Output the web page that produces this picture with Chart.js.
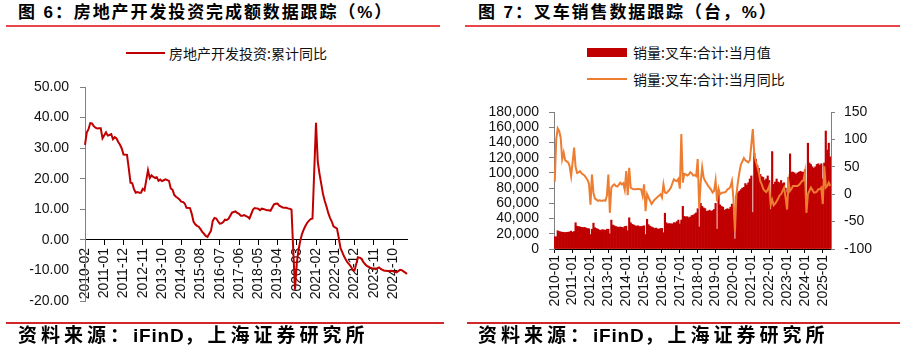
<!DOCTYPE html>
<html>
<head>
<meta charset="utf-8">
<script src="https://cdn.jsdelivr.net/npm/chart.js@4.4.1/dist/chart.umd.min.js"></script>
<style>
  html, body { margin: 0; padding: 0; background: #fff; }
  #page { position: relative; width: 905px; height: 353px; overflow: hidden; font-family: "Liberation Sans", "Noto Sans CJK SC", sans-serif; }
  canvas { position: absolute; top: 0; }
  .title { position: absolute; top: 3px; font-size: 17px; line-height: 20px; font-weight: bold; letter-spacing: 1.9px; color: #000; white-space: nowrap; }
  .rule-top { position: absolute; top: 25px; height: 2px; background: #E8464B; }
  .rule-bottom { position: absolute; top: 322px; height: 2px; background: #D2262A; }
  .source { position: absolute; top: 325px; font-size: 19px; line-height: 22px; font-weight: bold; letter-spacing: 4px; color: #000; white-space: nowrap; }
  .source span { letter-spacing: 0.8px; }
  .lg { position: absolute; font-family: "Noto Sans CJK SC", sans-serif; font-size: 14px; line-height: 18px; color: #111; white-space: nowrap; }
  .sw { position: absolute; }
</style>
</head>
<body>
<div id="page">
  <div class="title" style="left:18px">图 6：房地产开发投资完成额数据跟踪（%）</div>
  <div class="rule-top" style="left:6px;width:434px"></div>
  <div class="title" style="left:478px">图 7：叉车销售数据跟踪（台，%）</div>
  <div class="rule-top" style="left:465px;width:435px"></div>

  <div class="sw" style="left:126px;top:52px;width:39px;height:2px;background:#C00000"></div>
  <div class="lg" style="left:169px;top:44px">房地产开发投资:累计同比</div>

  <div class="sw" style="left:587px;top:48px;width:40px;height:9px;background:#C00000"></div>
  <div class="lg" style="left:633px;top:43px">销量:叉车:合计:当月值</div>
  <div class="sw" style="left:587px;top:78px;width:40px;height:2px;background:#ED7D31"></div>
  <div class="lg" style="left:633px;top:70px">销量:叉车:合计:当月同比</div>

  <canvas id="c1" width="450" height="353" style="left:0"></canvas>
  <canvas id="c2" width="450" height="353" style="left:455px"></canvas>

  <div class="rule-bottom" style="left:6px;width:438px"></div>
  <div class="rule-bottom" style="left:467px;width:433px"></div>
  <div class="source" style="left:18px">资料来源：<span>iFinD</span>，上海证券研究所</div>
  <div class="source" style="left:478px">资料来源：<span>iFinD</span>，上海证券研究所</div>
</div>
<script>
function monthRange(y, m, count) {
  const out = [];
  for (let i = 0; i < count; i++) {
    out.push(y + '-' + String(m).padStart(2, '0'));
    m++;
    if (m > 12) { m = 1; y++; }
  }
  return out;
}

// 图6: 2010-02 ~ 2025-06，1月无数据
const reMonths = monthRange(2010, 2, 185);
const reInvestYoY = [
  31.1, 35.1, 36.2, 38.2, 38.1, 37.2, 36.7, 36.4, 36.5, 36.5, 33.2,
  null, 35.2, 34.1, 34.3, 34.6, 32.9, 33.6, 33.2, 32.0, 31.1, 29.9, 27.9,
  null, 27.8, 23.5, 18.7, 18.5, 16.6, 15.4, 15.6, 15.4, 15.4, 16.7, 16.2,
  null, 22.8, 20.2, 21.1, 20.6, 20.3, 20.5, 19.3, 19.7, 19.2, 19.5, 19.8,
  null, 19.3, 16.8, 16.4, 14.7, 14.1, 13.7, 13.2, 12.5, 12.4, 11.9, 10.5,
  null, 10.4, 8.5, 6.0, 5.1, 4.6, 4.3, 3.5, 2.6, 2.0, 1.3, 1.0,
  null, 3.0, 6.2, 7.2, 7.0, 6.1, 5.3, 5.4, 5.8, 6.6, 6.5, 6.9,
  null, 8.9, 9.1, 9.3, 8.8, 8.5, 7.9, 7.9, 8.1, 7.8, 7.5, 7.0,
  null, 9.9, 10.4, 10.3, 10.2, 9.7, 10.2, 10.1, 9.9, 9.7, 9.7, 9.5,
  null, 11.6, 11.8, 11.9, 11.2, 10.9, 10.6, 10.5, 10.5, 10.3, 10.2, 9.9,
  null, -16.3, -7.7, -3.3, -0.3, 1.9, 3.4, 4.6, 5.6, 6.3, 6.8, 7.0,
  null, 38.3, 25.6, 21.6, 18.3, 15.0, 12.7, 10.9, 8.8, 7.2, 6.0, 4.4,
  null, 3.7, 0.7, -2.7, -4.0, -5.4, -6.4, -7.4, -8.0, -8.8, -9.8, -10.0,
  null, -5.7, -5.8, -6.2, -7.2, -7.9, -8.5, -8.8, -9.1, -9.3, -9.4, -9.6,
  null, -9.0, -9.5, -9.8, -10.1, -10.1, -10.2, -10.2, -10.1, -10.3, -10.4, -10.6,
  null, -9.8, -9.9, -10.3, -10.7, -11.2
];

// 图7: 2010-01 ~ 2025-06
const forkMonths = monthRange(2010, 1, 186);
const forkSales = [
  16000, 16000, 24000, 23000, 22500, 22000, 22000, 21500, 22000, 22000, 22500, 23500,
  22000, 23000, 34500, 30000, 29500, 29000, 28500, 28000, 28500, 27500, 27000, 26500,
  19000, 26000, 34000, 28000, 27000, 26000, 25000, 24500, 25500, 25000, 24500, 26000,
  26000, 20000, 38000, 31500, 30500, 29500, 29000, 28500, 29000, 28500, 28000, 29500,
  30000, 24000, 41000, 34500, 32500, 31500, 30500, 30000, 30500, 29500, 29500, 30000,
  30500, 19000, 39000, 32000, 30000, 29000, 28000, 27000, 27500, 26500, 26000, 27000,
  27000, 21500, 47000, 34500, 33000, 33500, 33000, 33000, 34500, 34500, 36000, 38000,
  33000, 38000, 56000, 43000, 42000, 42500, 41000, 42000, 44000, 44500, 46000, 47500,
  53000, 29000, 60000, 56000, 54000, 53000, 49500, 50000, 51000, 49500, 50500, 52000,
  60000, 26000, 73000, 58000, 56000, 55000, 51000, 52000, 53000, 52000, 55000, 59000,
  45000, 13000, 70000, 74000, 76000, 78000, 80000, 81000, 86000, 84000, 87000, 92000,
  96000, 48000, 126000, 118000, 110000, 106000, 98000, 95000, 94000, 90000, 92000, 96000,
  90000, 52000, 128000, 85000, 88000, 92000, 88000, 87000, 90000, 86000, 87000, 80000,
  74000, 94000, 125000, 101000, 101000, 100000, 98000, 100000, 101000, 102000, 101000, 101000,
  104000, 62000, 139000, 113000, 111000, 108000, 106000, 108000, 111000, 112000, 110000, 112000,
  92000, 113000, 155000, 130000, 139000, 121000
];
const forkYoY = [
  23, 100, 120, 115, 103, 64, 76, 62, 60, 58, 51, 33,
  58, 85, 50, 39, 40, 42, 38, 36, 34, 30, 26, 19,
  -19, 36, 2, -8, -10, -12, -11, -12, -12, -11, -12, -3,
  36, -34, 12, 16, 18, 15, 14, 17, 21, 18, 20, 8,
  42, -2, 48, 12, 10, 9, 9, 9, 10, 9, 9, -3,
  18, -31, 0, -6, -12, -18, -14, -10, -8, -5, -3, 0,
  -6, 18, 3, 2, 5, 8, 12, 20, 27, 25, 24, 28,
  10, 110, 21, 37, 36, 34, 36, 40, 38, 34, 35, 33,
  64, -25, 22, 49, 30, 24, 20, 15, 12, 8, 3, 6,
  25, -13, 10, 0, 2, 3, 3, 5, 9, 10, 14, 24,
  -10, -68, 0, 22, 40, 54, 60, 66, 62, 60, 58, 62,
  90, 119, 72, 60, 51, 40, 24, 18, 10, 6, 4, 8,
  15, -19, -10, -20, -17, -13, -8, -2, 0, 6, 12, -6,
  -28, 22, 6, 10, 15, 15, 15, 15, 17, 20, 24, 25,
  40, -34, 0, 6, 12, 8, 3, 3, 5, 9, 9, 12,
  -18, 51, 12, 15, 21, 15
];

const TICK_FONT = { family: '"Liberation Sans", Arial, sans-serif', size: 14 };
const TICK_COLOR = '#111';

function everyNth(n) {
  return scale => { scale.ticks = scale.ticks.filter((t, i) => i % n === 0); };
}

new Chart(document.getElementById('c1'), {
  type: 'line',
  data: {
    labels: reMonths,
    datasets: [{
      label: '房地产开发投资:累计同比',
      data: reInvestYoY,
      borderColor: '#C00000',
      borderWidth: 2,
      pointRadius: 0,
      spanGaps: true,
      tension: 0,
    }],
  },
  options: {
    responsive: false,
    animation: false,
    layout: { padding: { left: 25, top: 87, right: 43, bottom: 52 } },
    plugins: { legend: { display: false }, tooltip: { enabled: false } },
    scales: {
      x: {
        position: { y: 0 },
        offset: false,
        grid: { drawOnChartArea: false, tickLength: 5, color: '#000' },
        border: { color: '#000', width: 1 },
        ticks: { autoSkip: false, minRotation: 90, maxRotation: 90, padding: 3, font: TICK_FONT, color: TICK_COLOR },
        afterBuildTicks: everyNth(11),
      },
      y: {
        min: -20,
        max: 50,
        ticks: { autoSkip: false, stepSize: 10, padding: 11, font: TICK_FONT, color: TICK_COLOR, callback: v => v.toFixed(2) },
        grid: { drawOnChartArea: false, tickLength: 5, color: '#808080' },
        border: { color: '#808080', width: 1 },
        afterFit: s => { s.width = 60; },
      },
    },
  },
});

new Chart(document.getElementById('c2'), {
  type: 'bar',
  data: {
    labels: forkMonths,
    datasets: [
      {
        type: 'line',
        label: '销量:叉车:合计:当月同比',
        data: forkYoY,
        yAxisID: 'y1',
        borderColor: '#ED7D31',
        borderWidth: 2,
        pointRadius: 0,
        tension: 0,
        order: 0,
      },
      {
        type: 'bar',
        label: '销量:叉车:合计:当月值',
        data: forkSales,
        yAxisID: 'y',
        backgroundColor: '#C00000',
        borderWidth: 0,
        barPercentage: 1,
        categoryPercentage: 1,
        order: 1,
      },
    ],
  },
  options: {
    responsive: false,
    animation: false,
    layout: { padding: { left: 25, top: 112, right: 20, bottom: 44 } },
    plugins: { legend: { display: false }, tooltip: { enabled: false } },
    scales: {
      x: {
        offset: true,
        grid: { drawOnChartArea: false, offset: false, tickLength: 4, color: '#000' },
        border: { color: '#000', width: 1 },
        ticks: { autoSkip: false, minRotation: 90, maxRotation: 90, padding: 2, font: TICK_FONT, color: TICK_COLOR },
        afterBuildTicks: everyNth(12),
        afterFit: s => { s.height = 60; },
      },
      y: {
        position: 'left',
        min: 0,
        max: 180000,
        ticks: { autoSkip: false, stepSize: 20000, padding: 10, font: TICK_FONT, color: TICK_COLOR, callback: v => v.toLocaleString('en-US') },
        grid: { drawOnChartArea: false, tickLength: 5, color: '#808080' },
        border: { color: '#808080', width: 1 },
        afterFit: s => { s.width = 74; },
      },
      y1: {
        position: 'right',
        min: -100,
        max: 150,
        ticks: { autoSkip: false, stepSize: 50, padding: 9, font: TICK_FONT, color: TICK_COLOR },
        grid: { drawOnChartArea: false, tickLength: 4, color: '#808080' },
        border: { color: '#808080', width: 1 },
        afterFit: s => { s.width = 54; },
      },
    },
  },
});
</script>
</body>
</html>
